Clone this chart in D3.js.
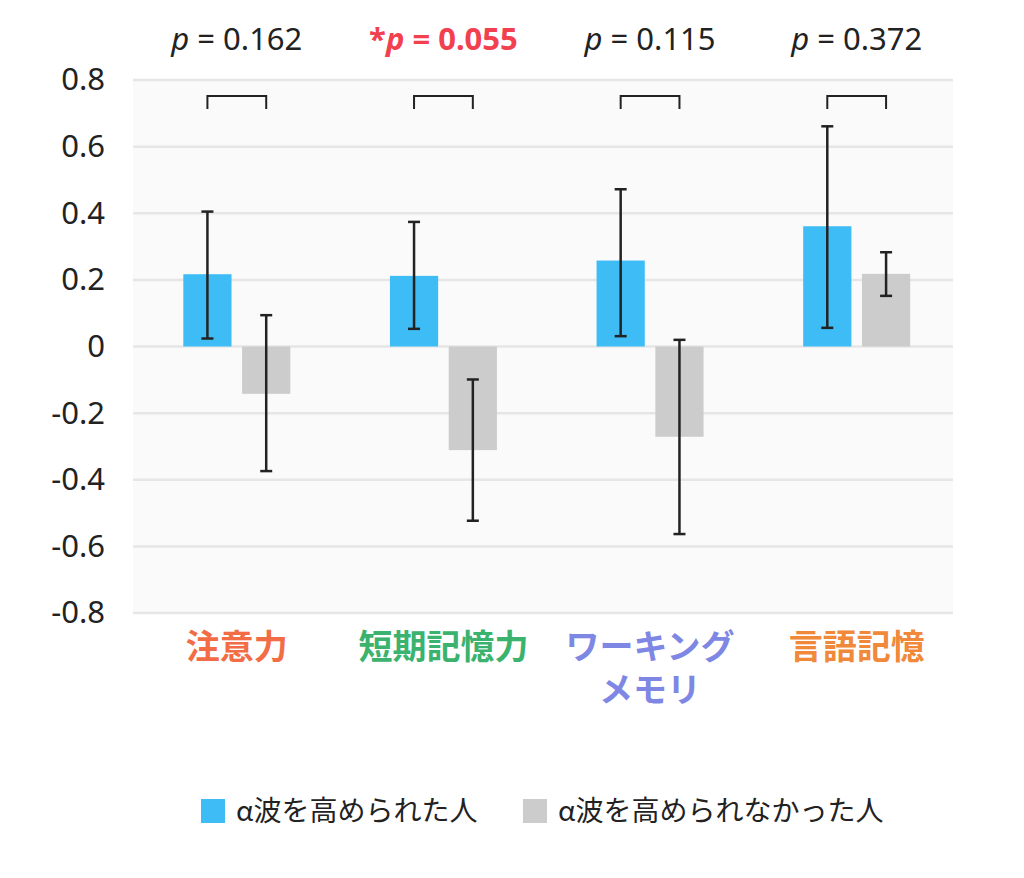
<!DOCTYPE html>
<html>
<head>
<meta charset="utf-8">
<script src="https://cdn.jsdelivr.net/npm/d3@7"></script>
<style>
  body { margin: 0; background: #fff; }
  text { font-family: "Noto Sans", "Noto Sans CJK JP", sans-serif; }
</style>
</head>
<body>
<svg width="1024" height="878"></svg>
<script>
// Data
const categories = ["注意力", "短期記憶力", "ワーキング\nメモリ", "言語記憶"];
const catColors = ["#f26c45", "#3bb26d", "#7f87e4", "#f0893a"];
const seriesNames = ["α波を高められた人", "α波を高められなかった人"];
const raised = [0.217, 0.212, 0.258, 0.361];
const raisedHi = [0.405, 0.374, 0.472, 0.661];
const raisedLo = [0.024, 0.053, 0.031, 0.056];
const notRaised = [-0.142, -0.311, -0.271, 0.218];
const notRaisedHi = [0.094, -0.099, 0.020, 0.283];
const notRaisedLo = [-0.374, -0.523, -0.563, 0.152];
const pValues = ["0.162", "0.055", "0.115", "0.372"];
const significant = [false, true, false, false];
const yTicks = [0.8, 0.6, 0.4, 0.2, 0, -0.2, -0.4, -0.6, -0.8];

const colors = ["#3ebcf5", "#cccccc"];

const plot = {left: 133, right: 953, top: 80, bottom: 613};

const svg = d3.select("svg");

// Scales
const y = d3.scaleLinear()
  .domain([-0.8, 0.8])
  .range([plot.bottom, plot.top]);

const x = d3.scaleBand()
  .domain(categories)
  .range([133.5, 960]);

const xSub = d3.scaleBand()
  .domain([0, 1])
  .range([-53.5, 53.5])
  .paddingInner(0.18);

// Plot background
svg.append("rect")
  .attr("x", plot.left)
  .attr("y", plot.top)
  .attr("width", plot.right - plot.left)
  .attr("height", plot.bottom - plot.top)
  .attr("fill", "#fafafa");

// Gridlines
svg.append("g")
  .selectAll("line")
  .data(yTicks)
  .enter()
  .append("line")
    .attr("x1", plot.left)
    .attr("x2", plot.right)
    .attr("y1", d => y(d))
    .attr("y2", d => y(d))
    .attr("stroke", "#e6e6e6")
    .attr("stroke-width", 2.5);

// Y axis labels
const yAxis = svg.append("g")
  .attr("transform", `translate(${plot.left},0)`)
  .call(d3.axisLeft(y)
    .tickValues(yTicks)
    .tickSize(0)
    .tickPadding(28)
    .tickFormat(d => d === 0 ? "0" : d3.format(".1f")(d).replace("−", "-")));
yAxis.select(".domain").remove();
yAxis.selectAll("text")
  .attr("font-size", 31)
  .attr("fill", "#222")
  .style("font-family", "'Noto Sans', sans-serif");

// Bars
const rows = categories.map((c, i) => ({
  cat: c,
  vals: [
    {s: 0, v: raised[i], hi: raisedHi[i], lo: raisedLo[i]},
    {s: 1, v: notRaised[i], hi: notRaisedHi[i], lo: notRaisedLo[i]}
  ]
}));

const groups = svg.append("g")
  .selectAll("g")
  .data(rows)
  .enter()
  .append("g")
    .attr("transform", d => `translate(${x(d.cat) + x.bandwidth() / 2},0)`);

groups.selectAll("rect")
  .data(d => d.vals)
  .enter()
  .append("rect")
    .attr("x", d => xSub(d.s))
    .attr("width", xSub.bandwidth())
    .attr("y", d => y(Math.max(0, d.v)))
    .attr("height", d => Math.abs(y(d.v) - y(0)))
    .attr("fill", d => colors[d.s]);

// Error bars
const err = groups.selectAll("g.err")
  .data(d => d.vals)
  .enter()
  .append("g")
    .attr("class", "err")
    .attr("stroke", "#222")
    .attr("stroke-width", 2.5);
err.append("line")
  .attr("x1", d => xSub(d.s) + xSub.bandwidth() / 2)
  .attr("x2", d => xSub(d.s) + xSub.bandwidth() / 2)
  .attr("y1", d => y(d.hi))
  .attr("y2", d => y(d.lo));
["hi", "lo"].forEach(k => {
  err.append("line")
    .attr("x1", d => xSub(d.s) + xSub.bandwidth() / 2 - 6)
    .attr("x2", d => xSub(d.s) + xSub.bandwidth() / 2 + 6)
    .attr("y1", d => y(d[k]))
    .attr("y2", d => y(d[k]));
});

// Brackets
groups.append("path")
  .attr("d", () => {
    const a = xSub(0) + xSub.bandwidth() / 2;
    const b = xSub(1) + xSub.bandwidth() / 2;
    return `M${a},109V96H${b}V109`;
  })
  .attr("fill", "none")
  .attr("stroke", "#222")
  .attr("stroke-width", 2);

// p-value labels
const pText = groups.append("text")
  .attr("y", 50)
  .attr("text-anchor", "middle")
  .attr("font-size", 31)
  .attr("fill", (d, i) => significant[i] ? "#f3404f" : "#222")
  .attr("font-weight", (d, i) => significant[i] ? "bold" : "normal");
pText.append("tspan")
  .text((d, i) => significant[i] ? "*" : "");
pText.append("tspan")
  .attr("font-style", "italic")
  .text("p");
pText.append("tspan")
  .text((d, i) => ` = ${pValues[i]}`);

// Category labels
const catText = groups.append("text")
  .attr("text-anchor", "middle")
  .attr("font-size", 34)
  .attr("font-weight", "bold")
  .attr("fill", (d, i) => catColors[i])
  .style("font-family", "'Noto Sans CJK JP', sans-serif");
catText.selectAll("tspan")
  .data(d => d.cat.split("\n"))
  .enter()
  .append("tspan")
    .attr("x", 0)
    .attr("y", (d, i) => 659 + i * 43)
    .text(d => d);

// Legend
const legendX = [201, 523];
const legend = svg.append("g")
  .selectAll("g")
  .data(seriesNames)
  .enter()
  .append("g")
    .attr("transform", (d, i) => `translate(${legendX[i]},799)`);
legend.append("rect")
  .attr("width", 24)
  .attr("height", 24)
  .attr("fill", (d, i) => colors[i]);
legend.append("text")
  .attr("x", 35)
  .attr("y", 22)
  .attr("font-size", 28)
  .attr("fill", "#222")
  .style("font-family", "'Noto Sans CJK JP', sans-serif")
  .text(d => d);
</script>
</body>
</html>
